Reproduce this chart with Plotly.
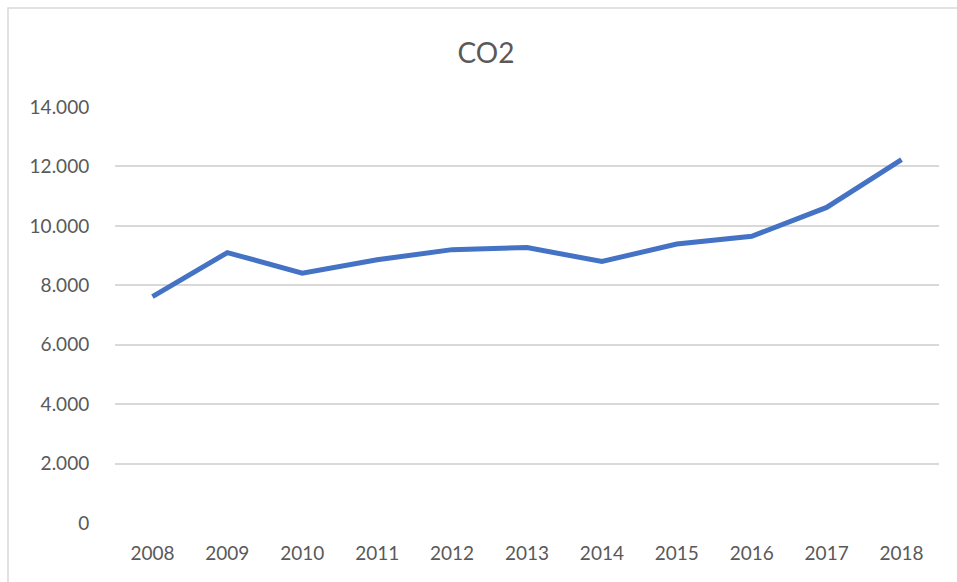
import plotly.graph_objects as go

years = ["2008", "2009", "2010", "2011", "2012", "2013", "2014", "2015", "2016", "2017", "2018"]
co2 = [7620, 9100, 8410, 8860, 9200, 9270, 8800, 9390, 9650, 10620, 12230]
y_ticks = [0, 2000, 4000, 6000, 8000, 10000, 12000, 14000]

W, H = 957, 582
L, R, T, B = 115, 18, 107, 59
pw, ph = W - L - R, H - T - B

fig = go.Figure()
fig.add_trace(go.Scatter(
    x=years, y=co2, mode="lines",
    line=dict(color="#4472C4", width=5),
    hoverinfo="x+y",
))

fontfam = "Lato, 'Open Sans', sans-serif"
fig.update_layout(
    width=W, height=H,
    margin=dict(l=L, r=R, t=T, b=B),
    paper_bgcolor="white", plot_bgcolor="white",
    separators=",.",
    showlegend=False,
    font=dict(family=fontfam, color="#595959", size=19),
    title=dict(text="CO2", x=486 / W, xanchor="center", y=1 - 53 / H, yanchor="middle",
               font=dict(size=28, color="#595959", family=fontfam)),
    xaxis=dict(
        type="category", range=[-0.5, len(years) - 0.5],
        showgrid=False, showline=False, zeroline=False,
        ticks="outside", ticklen=13, tickcolor="rgba(0,0,0,0)",
        tickfont=dict(size=19, color="#595959"),
    ),
    yaxis=dict(
        range=[0, 14000], tickvals=y_ticks, tickformat=",d",
        showgrid=True, gridcolor="#d9d9d9", gridwidth=1.5,
        showline=False, zeroline=False,
        ticks="outside", ticklen=21, tickcolor="rgba(0,0,0,0)",
        tickfont=dict(size=19, color="#595959"),
    ),
)

# chart-area border (left and top visible in the crop)
fig.add_shape(type="rect", xref="paper", yref="paper",
              x0=(8 - L) / pw, x1=(W + 20 - L) / pw,
              y0=(H - B - (H + 20)) / ph, y1=(H - B - 8) / ph,
              line=dict(color="#d9d9d9", width=1.5), fillcolor="rgba(0,0,0,0)", layer="below")

fig.write_html("out.html", config={"displayModeBar": False},
               post_script="document.body.style.margin='0';")
